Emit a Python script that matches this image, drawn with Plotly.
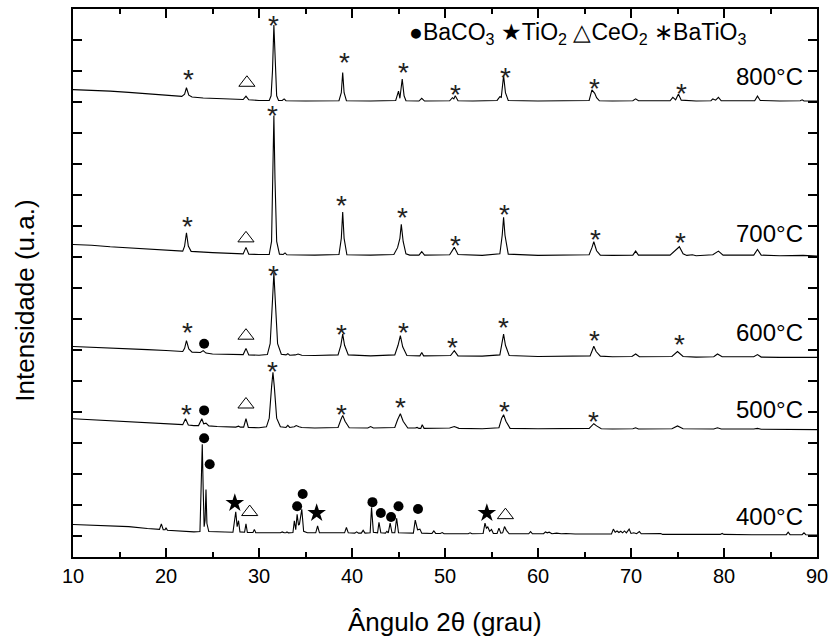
import plotly.graph_objects as go

# ---------------- data ----------------
x800 = [10, 12, 14, 16, 18, 20, 21.7, 22.0, 22.2, 22.45, 22.8, 24, 26, 28.3, 28.6, 28.9, 30, 31.1, 31.3, 31.45, 31.6, 31.75, 31.9, 32.1, 32.5, 32.7, 32.9, 35, 38.6, 38.85, 39.0, 39.15, 39.4, 42, 44.7, 45.0, 45.15, 45.4, 45.6, 45.8, 47.2, 47.5, 47.8, 50.5, 50.8, 50.95, 51.1, 51.4, 53, 55.6, 55.9, 56.05, 56.3, 56.5, 56.8, 60, 65.5, 65.8, 66.1, 66.3, 66.6, 68, 70.2, 70.5, 70.8, 74.2, 74.5, 74.8, 75.1, 75.4, 77, 78.6, 78.8, 79.1, 79.4, 79.7, 83.3, 83.6, 83.9, 86, 88.2, 88.4, 88.6, 90]
y800 = [14.40, 14.38, 14.35, 14.31, 14.27, 14.22, 14.18, 14.25, 14.46, 14.22, 14.16, 14.13, 14.10, 14.08, 14.19, 14.07, 14.05, 14.05, 14.2, 15.0, 16.48, 15.0, 14.2, 14.05, 14.05, 14.1, 14.04, 14.03, 14.04, 14.3, 14.95, 14.3, 14.04, 14.03, 14.05, 14.35, 14.12, 14.74, 14.2, 14.04, 14.03, 14.12, 14.03, 14.04, 14.14, 14.1, 14.2, 14.04, 14.03, 14.05, 14.17, 14.15, 14.85, 14.3, 14.05, 14.03, 14.05, 14.39, 14.28, 14.14, 14.04, 14.03, 14.04, 14.1, 14.04, 14.04, 14.15, 14.07, 14.26, 14.06, 14.03, 14.04, 14.1, 14.06, 14.15, 14.04, 14.04, 14.19, 14.05, 14.03, 14.04, 14.07, 14.03, 14.03]

x700 = [10, 12, 14, 16, 18, 20, 21.8, 22.0, 22.2, 22.4, 22.7, 25, 28.3, 28.6, 28.9, 30, 31.1, 31.35, 31.5, 31.6, 31.72, 31.9, 32.2, 32.6, 32.8, 33.0, 36, 38.6, 38.85, 39.0, 39.15, 39.45, 42, 44.5, 44.9, 45.15, 45.3, 45.5, 45.8, 46.2, 47.2, 47.5, 47.8, 50.5, 51.0, 51.4, 54, 55.9, 56.15, 56.3, 56.45, 56.8, 60, 65.5, 65.8, 66.0, 66.3, 66.7, 68, 70.2, 70.5, 70.8, 74.2, 74.7, 75.2, 75.6, 76.0, 76.6, 77, 78.8, 79.4, 79.9, 83.2, 83.6, 84.0, 86, 88.5, 90]
y700 = [9.40, 9.38, 9.33, 9.30, 9.27, 9.24, 9.19, 9.35, 9.78, 9.35, 9.18, 9.14, 9.10, 9.31, 9.09, 9.08, 9.08, 9.5, 11.5, 13.56, 11.5, 9.5, 9.09, 9.08, 9.13, 9.07, 9.06, 9.08, 9.6, 10.45, 9.6, 9.07, 9.06, 9.08, 9.3, 9.6, 10.05, 9.5, 9.1, 9.06, 9.06, 9.17, 9.06, 9.07, 9.31, 9.08, 9.05, 9.1, 9.7, 10.28, 9.7, 9.09, 9.05, 9.07, 9.3, 9.49, 9.2, 9.06, 9.05, 9.06, 9.19, 9.06, 9.06, 9.2, 9.33, 9.1, 9.05, 9.07, 9.04, 9.07, 9.19, 9.06, 9.06, 9.24, 9.06, 9.04, 9.05, 9.03]

x600 = [10, 12, 14, 16, 18, 20, 21.8, 22.0, 22.2, 22.45, 22.8, 23.7, 24.0, 24.3, 25, 28.3, 28.6, 28.9, 30, 30.9, 31.2, 31.45, 31.6, 31.75, 32.0, 32.4, 32.9, 33.1, 33.3, 33.9, 34.2, 34.6, 36, 38.5, 38.8, 39.0, 39.2, 39.6, 42, 44.6, 44.95, 45.2, 45.45, 45.9, 47.3, 47.5, 47.7, 50.6, 51.0, 51.4, 54, 55.9, 56.1, 56.3, 56.5, 56.9, 60, 65.6, 65.85, 66.0, 66.25, 66.7, 68, 70.1, 70.5, 70.9, 74.4, 75.0, 75.6, 77, 78.9, 79.3, 79.8, 83.2, 83.6, 84.0, 86, 90]
y600 = [6.11, 6.09, 6.06, 6.04, 6.01, 5.98, 5.95, 6.05, 6.30, 6.03, 5.93, 5.92, 5.98, 5.90, 5.87, 5.85, 6.05, 5.84, 5.83, 5.85, 6.2, 7.6, 8.48, 7.6, 6.2, 5.86, 5.84, 5.88, 5.83, 5.84, 5.87, 5.83, 5.82, 5.84, 6.15, 6.51, 6.15, 5.84, 5.81, 5.84, 6.15, 6.46, 6.1, 5.82, 5.81, 5.92, 5.81, 5.82, 5.98, 5.81, 5.80, 5.84, 6.2, 6.51, 6.15, 5.82, 5.79, 5.81, 6.0, 6.12, 5.95, 5.80, 5.78, 5.79, 5.87, 5.78, 5.79, 5.95, 5.79, 5.77, 5.78, 5.87, 5.78, 5.78, 5.85, 5.77, 5.76, 5.76]

x500 = [10, 12, 14, 16, 18, 20, 21.8, 22.1, 22.4, 23.0, 23.5, 23.85, 24.05, 24.3, 24.6, 25.5, 27.5, 27.8, 28.0, 28.35, 28.6, 28.85, 30, 30.8, 31.1, 31.35, 31.5, 31.65, 31.9, 32.3, 32.9, 33.1, 33.3, 33.8, 34.0, 34.3, 34.6, 36, 38.5, 38.8, 39.0, 39.25, 39.7, 41.7, 42.0, 42.3, 44.6, 44.9, 45.2, 45.5, 46.0, 46.8, 47.0, 47.2, 47.4, 47.55, 47.75, 50.5, 51.0, 51.5, 54, 55.8, 56.1, 56.3, 56.55, 57.0, 60, 65.5, 65.8, 66.0, 66.3, 66.8, 68, 70.2, 70.5, 70.8, 74.4, 75.0, 75.6, 77, 78.9, 79.3, 79.7, 83.2, 83.6, 84.0, 86, 90]
y500 = [3.78, 3.75, 3.72, 3.69, 3.66, 3.62, 3.59, 3.78, 3.58, 3.56, 3.56, 3.78, 3.62, 3.64, 3.55, 3.53, 3.51, 3.54, 3.51, 3.51, 3.78, 3.50, 3.49, 3.52, 3.8, 4.8, 5.28, 4.8, 3.8, 3.52, 3.50, 3.57, 3.50, 3.52, 3.56, 3.52, 3.50, 3.48, 3.50, 3.75, 3.89, 3.70, 3.49, 3.48, 3.53, 3.48, 3.50, 3.75, 3.94, 3.70, 3.48, 3.48, 3.50, 3.47, 3.47, 3.59, 3.47, 3.48, 3.53, 3.47, 3.46, 3.49, 3.80, 3.91, 3.70, 3.47, 3.46, 3.47, 3.56, 3.62, 3.55, 3.46, 3.45, 3.46, 3.49, 3.45, 3.46, 3.55, 3.46, 3.45, 3.45, 3.49, 3.45, 3.45, 3.47, 3.44, 3.43, 3.43]

x400 = [10, 12, 14, 16, 18, 19.3, 19.5, 19.7, 19.9, 20.0, 20.15, 21, 23, 23.65, 23.8, 23.9, 24.0, 24.1, 24.2, 24.3, 24.4, 24.6, 27.2, 27.5, 27.65, 27.8, 27.95, 28.45, 28.6, 28.75, 29.35, 29.5, 29.65, 32.3, 32.5, 32.7, 32.9, 33.0, 33.15, 33.65, 33.8, 33.95, 34.1, 34.25, 34.35, 34.6, 34.8, 35.2, 36.1, 36.3, 36.5, 39.2, 39.4, 39.6, 40.3, 40.5, 40.7, 41.0, 41.2, 41.4, 41.95, 42.1, 42.3, 42.75, 42.9, 43.1, 43.6, 43.75, 43.9, 44.1, 44.3, 44.6, 44.8, 45.0, 46.6, 46.8, 47.05, 47.3, 47.5, 48.6, 48.8, 49.0, 49.5, 49.7, 49.9, 52.5, 52.7, 52.9, 54.1, 54.3, 54.45, 54.6, 54.8, 55.0, 55.2, 55.6, 55.8, 56.0, 56.2, 56.4, 56.6, 56.9, 59.0, 59.2, 59.4, 60.6, 60.8, 61.0, 61.2, 61.5, 62.0, 62.5, 63, 64, 67.9, 68.1, 68.3, 68.5, 68.7, 68.9, 69.1, 69.3, 69.5, 69.8, 70.0, 70.3, 70.6, 70.9, 71.1, 73.0, 73.2, 73.4, 76.5, 77.0, 77.5, 78.0, 78.3, 79.6, 79.8, 80.0, 83, 86.7, 86.9, 87.1, 88.4, 88.6, 88.8, 90]
y400 = [0.37, 0.35, 0.33, 0.30, 0.24, 0.21, 0.39, 0.20, 0.20, 0.26, 0.18, 0.16, 0.13, 0.14, 1.5, 2.96, 1.5, 0.30, 0.50, 1.50, 0.40, 0.14, 0.12, 0.78, 0.30, 0.49, 0.13, 0.12, 0.39, 0.11, 0.11, 0.21, 0.10, 0.10, 0.13, 0.10, 0.10, 0.13, 0.10, 0.11, 0.49, 0.20, 0.70, 0.35, 0.38, 0.86, 0.15, 0.10, 0.10, 0.32, 0.10, 0.10, 0.27, 0.10, 0.09, 0.13, 0.09, 0.09, 0.18, 0.09, 0.10, 0.92, 0.12, 0.10, 0.44, 0.10, 0.09, 0.15, 0.10, 0.41, 0.10, 0.10, 0.57, 0.10, 0.09, 0.51, 0.20, 0.22, 0.09, 0.08, 0.16, 0.08, 0.08, 0.11, 0.07, 0.07, 0.10, 0.07, 0.08, 0.41, 0.25, 0.29, 0.15, 0.21, 0.08, 0.08, 0.25, 0.09, 0.10, 0.30, 0.18, 0.07, 0.07, 0.14, 0.07, 0.07, 0.13, 0.10, 0.12, 0.07, 0.09, 0.07, 0.08, 0.06, 0.06, 0.22, 0.12, 0.16, 0.11, 0.15, 0.10, 0.16, 0.10, 0.22, 0.08, 0.10, 0.07, 0.14, 0.07, 0.06, 0.08, 0.05, 0.05, 0.07, 0.05, 0.07, 0.05, 0.05, 0.08, 0.05, 0.04, 0.04, 0.12, 0.04, 0.04, 0.10, 0.04, 0.03]

series = [("800°C", x800, y800), ("700°C", x700, y700), ("600°C", x600, y600),
          ("500°C", x500, y500), ("400°C", x400, y400)]

# temperature labels (right end x, centre y)
temp_labels = ["800°C", "700°C", "600°C", "500°C", "400°C"]
temp_x = [88.7, 88.7, 88.7, 88.7, 88.7]
temp_y = [14.81, 9.77, 6.57, 4.07, 0.64]

# phase markers
bt_x = [22.4, 31.6, 39.2, 45.5, 51.1, 56.5, 66.1, 75.4,
        22.3, 31.5, 38.9, 45.4, 51.1, 56.4, 66.2, 75.3,
        22.3, 31.6, 38.9, 45.5, 50.8, 56.3, 66.1, 75.2,
        22.2, 31.5, 38.9, 45.2, 56.4, 66.0]
bt_y = [14.94, 16.68, 15.49, 15.17, 14.46, 15.0, 14.65, 14.49,
        10.2, 13.8, 10.9, 10.5, 9.6, 10.6, 9.8, 9.7,
        6.78, 8.64, 6.72, 6.78, 6.3, 6.94, 6.52, 6.39,
        4.15, 5.53, 4.15, 4.37, 4.24, 3.92]
ce_x = [28.7, 28.6, 28.6, 28.6, 29.0, 56.5]
ce_y = [14.62, 9.6, 6.46, 4.24, 0.77, 0.67]
bc_x = [24.1, 24.1, 24.1, 24.7, 34.1, 34.7, 42.2, 43.1, 44.2, 45.0, 47.1]
bc_y = [6.2, 4.05, 3.15, 2.31, 0.96, 1.35, 1.09, 0.74, 0.61, 0.96, 0.87]
ti_x = [27.4, 36.2, 54.5]
ti_y = [1.06, 0.74, 0.74]

FONT = "Liberation Sans, Arial, sans-serif"

fig = go.Figure()
for name, xs, ys in series:
    fig.add_trace(go.Scatter(x=xs, y=ys, mode="lines", name=name,
                             line=dict(color="black", width=1.1),
                             showlegend=False, hoverinfo="skip"))

fig.add_trace(go.Scatter(x=bc_x, y=bc_y, mode="markers", showlegend=False,
                         marker=dict(symbol="circle", size=10, color="black")))
fig.add_trace(go.Scatter(x=ti_x, y=ti_y, mode="markers", showlegend=False,
                         marker=dict(symbol="star", size=14, color="black")))
fig.add_trace(go.Scatter(x=ce_x, y=ce_y, mode="markers", showlegend=False,
                         marker=dict(symbol="triangle-up-open", size=14, color="black",
                                     line=dict(width=1, color="black"))))

annotations = []
for xv, yv in zip(bt_x, bt_y):
    annotations.append(dict(x=xv, y=yv, xref="x", yref="y", text="*", showarrow=False,
                            font=dict(family=FONT, size=28, color="#222"),
                            xanchor="center", yanchor="middle", yshift=-7))
for t, xv, yv in zip(temp_labels, temp_x, temp_y):
    annotations.append(dict(x=xv, y=yv, xref="x", yref="y", text=t, showarrow=False,
                            font=dict(family=FONT, size=24, color="black"),
                            xanchor="right", yanchor="middle"))
annotations.append(dict(x=0.449, y=0.955, xref="paper", yref="paper",
                        text="●BaCO<sub>3</sub> ★TiO<sub>2</sub> △CeO<sub>2</sub> ∗BaTiO<sub>3</sub>",
                        showarrow=False, font=dict(family=FONT, size=23, color="black"),
                        xanchor="left", yanchor="middle"))
annotations.append(dict(x=0.5, y=-0.118, xref="paper", yref="paper",
                        text="Ângulo 2θ (grau)", showarrow=False,
                        font=dict(family=FONT, size=26, color="black"),
                        xanchor="center", yanchor="middle"))
annotations.append(dict(x=-0.065, y=0.467, xref="paper", yref="paper",
                        text="Intensidade (u.a.)", showarrow=False, textangle=-90,
                        font=dict(family=FONT, size=26, color="black"),
                        xanchor="center", yanchor="middle"))

fig.update_layout(
    width=835, height=643,
    margin=dict(l=73, r=16, t=7, b=86),
    paper_bgcolor="white", plot_bgcolor="white",
    font=dict(family=FONT, color="black"),
    annotations=annotations,
    showlegend=False,
)
fig.update_xaxes(range=[10, 90], tick0=10, dtick=10, ticks="inside", ticklen=9,
                 tickwidth=1.5, tickcolor="black", showline=True, linewidth=2,
                 linecolor="black", mirror="ticks", showgrid=False, zeroline=False,
                 tickfont=dict(family=FONT, size=20, color="black"),
                 minor=dict(dtick=5, ticks="inside", ticklen=5, tickwidth=1.5,
                            tickcolor="black", showgrid=False))
fig.update_yaxes(range=[-0.68, 17], tick0=0, dtick=1, ticks="inside", ticklen=9,
                 tickwidth=1.5, tickcolor="black", showline=True, linewidth=2,
                 linecolor="black", mirror="ticks", showgrid=False, zeroline=False,
                 showticklabels=False)

fig.write_html("out.html", config={"displayModeBar": False},
               post_script="document.body.style.margin='0';document.body.style.overflow='hidden';")
